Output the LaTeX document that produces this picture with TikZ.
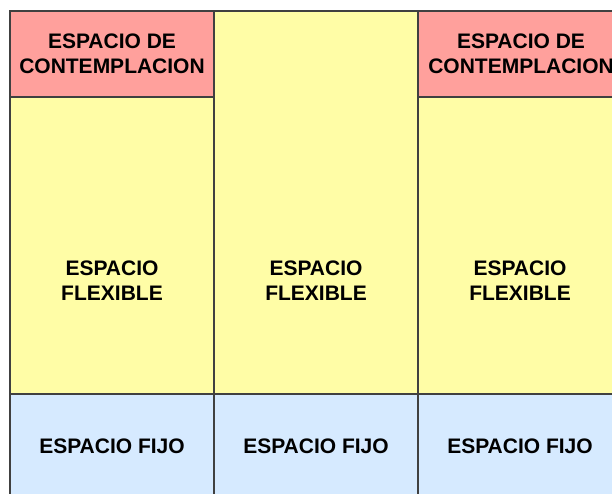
\documentclass[tikz,border=0pt]{standalone}
\usepackage{fontspec}
\setmainfont{Liberation Sans}
\definecolor{contemp}{RGB}{255,160,156}
\definecolor{flexible}{RGB}{255,253,166}
\definecolor{fijo}{RGB}{214,234,255}
\definecolor{borde}{RGB}{64,64,64}
\tikzset{
  celda/.style={draw=borde,line width=1.4pt},
  rotulo/.style={font=\bfseries\fontsize{21}{25}\selectfont,align=center,text=black,inner sep=0pt}
}
\begin{document}
\begin{tikzpicture}[x=1pt,y=-1pt]
\useasboundingbox[fill=white] (0,0) rectangle (612,493);
\clip (0,0) rectangle (612,493);
% columna izquierda
\filldraw[celda,fill=contemp] (10,11) rectangle (214,97);
\filldraw[celda,fill=flexible] (10,97) rectangle (214,394);
\filldraw[celda,fill=fijo] (10,394) rectangle (214,500);
% columna central
\filldraw[celda,fill=flexible] (214,11) rectangle (418,394);
\filldraw[celda,fill=fijo] (214,394) rectangle (418,500);
% columna derecha
\filldraw[celda,fill=contemp] (418,11) rectangle (624,97);
\filldraw[celda,fill=flexible] (418,97) rectangle (624,394);
\filldraw[celda,fill=fijo] (418,394) rectangle (624,500);
% textos
\node[rotulo] (contempA) at (112,54) {ESPACIO DE\\CONTEMPLACION};
\node[rotulo] (contempC) at (521,54) {ESPACIO DE\\CONTEMPLACION};
\node[rotulo] (flexA) at (112,281) {ESPACIO\\FLEXIBLE};
\node[rotulo] (flexB) at (316,281) {ESPACIO\\FLEXIBLE};
\node[rotulo] (flexC) at (520,281) {ESPACIO\\FLEXIBLE};
\node[rotulo] (fijoA) at (112,446) {ESPACIO FIJO};
\node[rotulo] (fijoB) at (316,446) {ESPACIO FIJO};
\node[rotulo] (fijoC) at (520,446) {ESPACIO FIJO};
\end{tikzpicture}
\end{document}
